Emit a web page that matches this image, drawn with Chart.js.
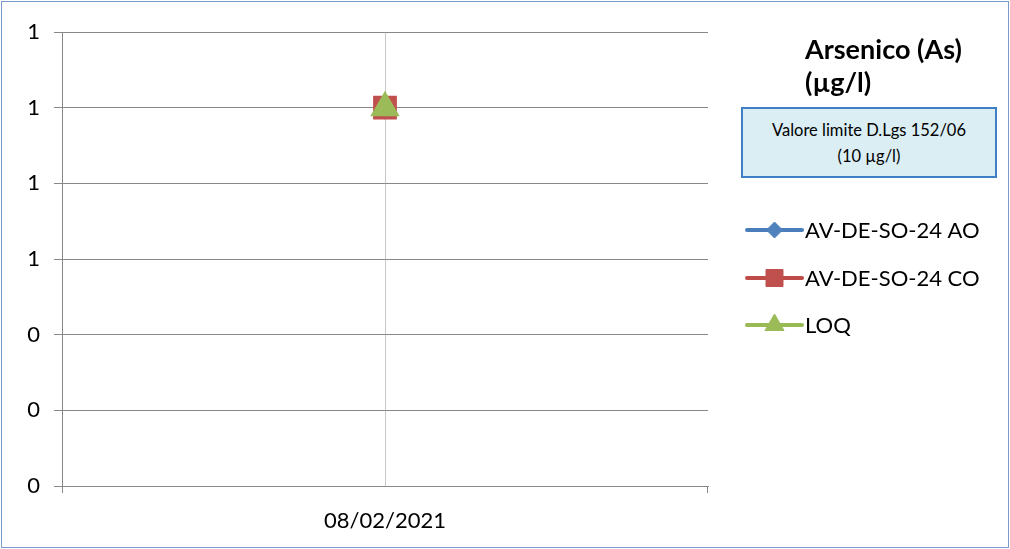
<!DOCTYPE html>
<html><head><meta charset="utf-8">
<script src="https://cdn.jsdelivr.net/npm/chart.js@4"></script>
<style>
html,body{margin:0;padding:0;background:#fff;}
#wrap{position:relative;width:1010px;height:549px;overflow:hidden;}
#frame{position:absolute;left:1px;top:1px;width:1006px;height:545px;border:1px solid #7A9CC9;pointer-events:none;}
#title{position:absolute;left:805px;top:32px;font-family:Lato,"Noto Sans",sans-serif;font-weight:bold;font-size:27px;line-height:33px;color:#000;}
#box{position:absolute;left:741px;top:107px;width:252px;height:67px;background:#DAEEF3;border:2px solid #3F7FC6;box-sizing:content-box;font-family:Lato,"Noto Sans",sans-serif;font-size:16.5px;line-height:26px;text-align:center;color:#000;display:flex;flex-direction:column;justify-content:center;}
canvas{position:absolute;left:0;top:0;}
</style></head>
<body>
<div id="wrap">
<canvas id="c" width="1010" height="549"></canvas>
<div id="title">Arsenico (As)<br>(µg/l)</div>
<div id="box"><div>Valore limite D.Lgs 152/06</div><div>(10 µg/l)</div></div>
<div id="frame"></div>
</div>
<script>
const categories = ["08/02/2021"];
const seriesNames = ["AV-DE-SO-24 AO", "AV-DE-SO-24 CO", "LOQ"];
const valuesAO = [1];
const valuesCO = [1];
const valuesLOQ = [1];
const yTicks = [0, 0.2, 0.4, 0.6, 0.8, 1.0, 1.2];

const FONT = 'Lato, "Noto Sans", sans-serif';

const legendPlugin = {
  id: 'sideLegend',
  afterDraw(chart) {
    const ctx = chart.ctx;
    const x0 = 747, x1 = 802, ys = [230, 278, 325];
    chart.data.datasets.forEach((ds, i) => {
      const y = ys[i];
      ctx.save();
      ctx.strokeStyle = ds.borderColor;
      ctx.lineWidth = 4;
      ctx.lineCap = 'round';
      ctx.beginPath(); ctx.moveTo(x0, y); ctx.lineTo(x1, y); ctx.stroke();
      ctx.restore();
      ctx.save();
      ctx.fillStyle = ds.pointBackgroundColor;
      ctx.strokeStyle = ds.pointBackgroundColor;
      ctx.lineWidth = 1;
      Chart.helpers.drawPoint(ctx, {pointStyle: ds.pointStyle, radius: ds.legendRadius, borderWidth: 1, rotation: 0}, (x0 + x1) / 2, y);
      ctx.fillStyle = '#000';
      ctx.font = '22px ' + FONT;
      ctx.textBaseline = 'middle';
      ctx.textAlign = 'left';
      ctx.fillText(ds.label, 805, y + 1);
      ctx.restore();
    });
  }
};

const edgeTicks = {
  id: 'edgeTicks',
  beforeDatasetsDraw(chart) {
    const a = chart.chartArea, ctx = chart.ctx;
    ctx.save();
    ctx.strokeStyle = '#888';
    ctx.lineWidth = 1;
    ctx.beginPath();
    ctx.moveTo(a.left + 0.5, a.bottom); ctx.lineTo(a.left + 0.5, a.bottom + 7);
    ctx.moveTo(a.right - 0.5, a.bottom); ctx.lineTo(a.right - 0.5, a.bottom + 7);
    ctx.stroke();
    ctx.restore();
  }
};

new Chart(document.getElementById('c'), {
  type: 'line',
  data: {
    labels: categories,
    datasets: [
      {label: seriesNames[0], data: valuesAO, borderColor: '#4A7EBB', backgroundColor: '#4A7EBB', pointBackgroundColor: '#4F81BD', pointBorderColor: '#4F81BD', pointStyle: 'rectRot', pointRadius: 9, legendRadius: 8, borderWidth: 4, order: 3},
      {label: seriesNames[1], data: valuesCO, borderColor: '#BE4B48', backgroundColor: '#C0504D', pointBackgroundColor: '#C0504D', pointBorderColor: '#C0504D', pointStyle: 'rect', pointRadius: 14, legendRadius: 12, borderWidth: 4, order: 2},
      {label: seriesNames[2], data: valuesLOQ, borderColor: '#98B954', backgroundColor: '#9BBB59', pointBackgroundColor: '#9BBB59', pointBorderColor: '#9BBB59', pointStyle: 'triangle', pointRadius: 13, legendRadius: 11, borderWidth: 4, order: 1}
    ]
  },
  options: {
    responsive: false,
    animation: false,
    layout: {padding: {top: 32, right: 302, left: 0, bottom: 0}},
    plugins: {legend: {display: false}, tooltip: {enabled: false}},
    scales: {
      x: {
        type: 'category',
        offset: true,
        grid: {offset: false, color: '#C8C8C8', drawTicks: false, lineWidth: 1},
        border: {display: true, color: '#888', width: 1},
        ticks: {color: '#000', font: {family: FONT, size: 22}, padding: 22},
        afterFit(s) { s.height = 63; }
      },
      y: {
        min: 0, max: 1.2,
        afterBuildTicks(s) { s.ticks = yTicks.map(v => ({value: v})); },
        grid: {color: '#888', tickLength: 8, lineWidth: 1},
        border: {display: true, color: '#888', width: 1},
        ticks: {color: '#000', font: {family: FONT, size: 22}, padding: 14, callback: v => Math.round(v).toString()},
        afterFit(s) { s.width = 62; }
      }
    }
  },
  plugins: [edgeTicks, legendPlugin]
});
</script>
</body></html>
